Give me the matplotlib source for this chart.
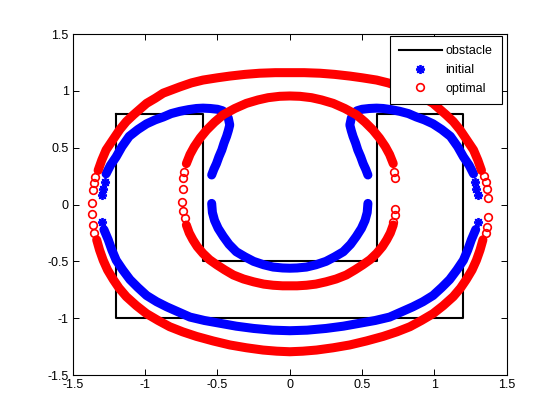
import matplotlib
matplotlib.use("Agg")
import matplotlib.pyplot as plt

plt.rcParams['font.family'] = ['Liberation Sans', 'DejaVu Sans']

# obstacle outline (U shaped block)
obs_x = [-1.2, -0.6, -0.6, 0.6, 0.6, 1.2, 1.2, -1.2, -1.2]
obs_y = [0.8, 0.8, -0.5, -0.5, 0.8, 0.8, -1.0, -1.0, 0.8]

# initial path - dense parts, left half (right half is mirrored)
ini_top_x = [-1.27, -1.24, -1.20, -1.16, -1.11, -1.05, -0.99, -0.93, -0.875, -0.82, -0.76, -0.70,
             -0.645, -0.60, -0.55, -0.50, -0.465, -0.44, -0.425, -0.415, -0.425, -0.437, -0.455,
             -0.47, -0.49, -0.507, -0.525, -0.54]
ini_top_y = [0.27, 0.345, 0.42, 0.51, 0.60, 0.66, 0.71, 0.745, 0.77, 0.80, 0.82, 0.835,
             0.845, 0.848, 0.845, 0.838, 0.825, 0.80, 0.76, 0.70, 0.65, 0.60, 0.54,
             0.48, 0.42, 0.36, 0.31, 0.26]
ini_outer_x = [-1.285, -1.255, -1.23, -1.20, -1.155, -1.105, -1.05, -0.99, -0.92, -0.85, -0.77,
               -0.69, -0.59, -0.48, -0.37, -0.25, -0.12, 0.0]
ini_outer_y = [-0.22, -0.31, -0.40, -0.49, -0.575, -0.66, -0.73, -0.80, -0.855, -0.90, -0.945,
               -0.99, -1.02, -1.045, -1.07, -1.09, -1.105, -1.11]
ini_inner_x = [-0.54, -0.535, -0.52, -0.495, -0.46, -0.42, -0.37, -0.31, -0.25, -0.18, -0.115, -0.05, 0.0]
ini_inner_y = [0.01, -0.07, -0.14, -0.21, -0.28, -0.35, -0.415, -0.46, -0.50, -0.53, -0.55, -0.558, -0.56]
# initial path - sparse points at the sides
ini_tip_x = [-1.30, -1.29, -1.28, -1.30, 1.30, 1.29, 1.28, 1.30]
ini_tip_y = [0.08, 0.14, 0.20, -0.15, 0.08, 0.14, 0.20, -0.15]

# optimal path - dense parts, left half
opt_outer_up_x = [-1.325, -1.30, -1.27, -1.22, -1.175, -1.13, -1.08, -0.99, -0.93, -0.875, -0.76,
                  -0.68, -0.60, -0.50, -0.415, -0.31, -0.21, -0.10, 0.0]
opt_outer_up_y = [0.30, 0.39, 0.48, 0.575, 0.66, 0.73, 0.79, 0.89, 0.935, 0.98, 1.035,
                  1.07, 1.095, 1.115, 1.13, 1.145, 1.155, 1.16, 1.16]
opt_outer_lo_x = [-1.335, -1.315, -1.29, -1.26, -1.22, -1.18, -1.13, -1.06, -0.99, -0.91, -0.83,
                  -0.74, -0.645, -0.53, -0.415, -0.30, -0.185, -0.09, 0.0]
opt_outer_lo_y = [-0.31, -0.40, -0.49, -0.575, -0.66, -0.735, -0.81, -0.89, -0.96, -1.02, -1.075,
                  -1.12, -1.16, -1.20, -1.235, -1.26, -1.28, -1.29, -1.295]
opt_inner_up_x = [-0.715, -0.69, -0.66, -0.62, -0.575, -0.52, -0.46, -0.38, -0.30, -0.22, -0.15, -0.07, 0.0]
opt_inner_up_y = [0.36, 0.44, 0.51, 0.585, 0.655, 0.725, 0.79, 0.845, 0.89, 0.92, 0.94, 0.952, 0.955]
opt_inner_lo_x = [-0.715, -0.695, -0.67, -0.64, -0.60, -0.555, -0.505, -0.45, -0.39, -0.32, -0.25,
                  -0.18, -0.115, -0.05, 0.0]
opt_inner_lo_y = [-0.18, -0.25, -0.31, -0.37, -0.43, -0.485, -0.53, -0.575, -0.62, -0.655, -0.68,
                  -0.70, -0.71, -0.715, -0.715]
# optimal path - sparse points at the sides
opt_tip_x = [-1.37, -1.36, -1.355, -1.345, -1.37, -1.36, -1.355,
             1.37, 1.36, 1.355, 1.345, 1.37, 1.36, 1.355,
             -0.74, -0.737, -0.73, -0.745, -0.735, -0.725,
             0.726, 0.72, 0.726, 0.726, 0.71]
opt_tip_y = [0.01, 0.13, 0.19, 0.24, -0.08, -0.18, -0.25,
             0.055, 0.14, 0.20, 0.25, -0.11, -0.20, -0.25,
             0.14, 0.23, 0.29, 0.025, -0.057, -0.12,
             0.23, 0.29, -0.04, -0.09, -0.15]


def mirror(xs, ys):
    # full arc from the left half: append the mirror image
    return xs + [-x for x in xs[-2::-1]], ys + ys[-2::-1]


ast = (8, 2, 0)  # matlab style asterisk
fig = plt.figure(figsize=(5.6, 4.2), dpi=100)
ax = fig.add_axes([0.13, 0.107, 0.775, 0.812])

ax.plot(obs_x, obs_y, color='k', lw=1.5, label='obstacle', zorder=2)

# densely packed markers show up as a solid band
band = dict(lw=6.5, solid_capstyle='round', solid_joinstyle='round')

# initial
for xs, ys in [mirror(ini_outer_x, ini_outer_y), mirror(ini_inner_x, ini_inner_y),
               (ini_top_x, ini_top_y), ([-x for x in ini_top_x], ini_top_y)]:
    ax.plot(xs, ys, color='b', zorder=3, **band)
ax.plot(ini_tip_x, ini_tip_y, ls='none', color='b', marker=ast, ms=6.5, mew=1.3,
        label='initial', zorder=3)

# optimal
for xs, ys in [mirror(opt_outer_up_x, opt_outer_up_y), mirror(opt_outer_lo_x, opt_outer_lo_y),
               mirror(opt_inner_up_x, opt_inner_up_y), mirror(opt_inner_lo_x, opt_inner_lo_y)]:
    ax.plot(xs, ys, color='r', zorder=4, **band)
ax.plot(opt_tip_x, opt_tip_y, ls='none', color='r', marker='o', ms=5.5, mfc='none', mew=1.2,
        label='optimal', zorder=4)

ax.set_xlim(-1.5, 1.5)
ax.set_ylim(-1.5, 1.5)
ticks = [-1.5, -1, -0.5, 0, 0.5, 1, 1.5]
tick_labels = ['-1.5', '-1', '-0.5', '0', '0.5', '1', '1.5']
ax.set_xticks(ticks)
ax.set_xticklabels(tick_labels)
ax.set_yticks(ticks)
ax.set_yticklabels(tick_labels)
ax.tick_params(direction='in', top=True, right=True, length=4, width=0.7,
               labelsize=9, pad=3)
for s in ax.spines.values():
    s.set_linewidth(0.8)

leg = ax.legend(loc='upper right', bbox_to_anchor=(0.988, 0.995), borderaxespad=0,
                fontsize=9, numpoints=1, handlelength=3.4, handletextpad=0.3,
                labelspacing=0.55, borderpad=0.75, fancybox=False, framealpha=1)
leg.get_frame().set_edgecolor('k')
leg.get_frame().set_linewidth(0.8)

fig.savefig('out.png', dpi=100)
